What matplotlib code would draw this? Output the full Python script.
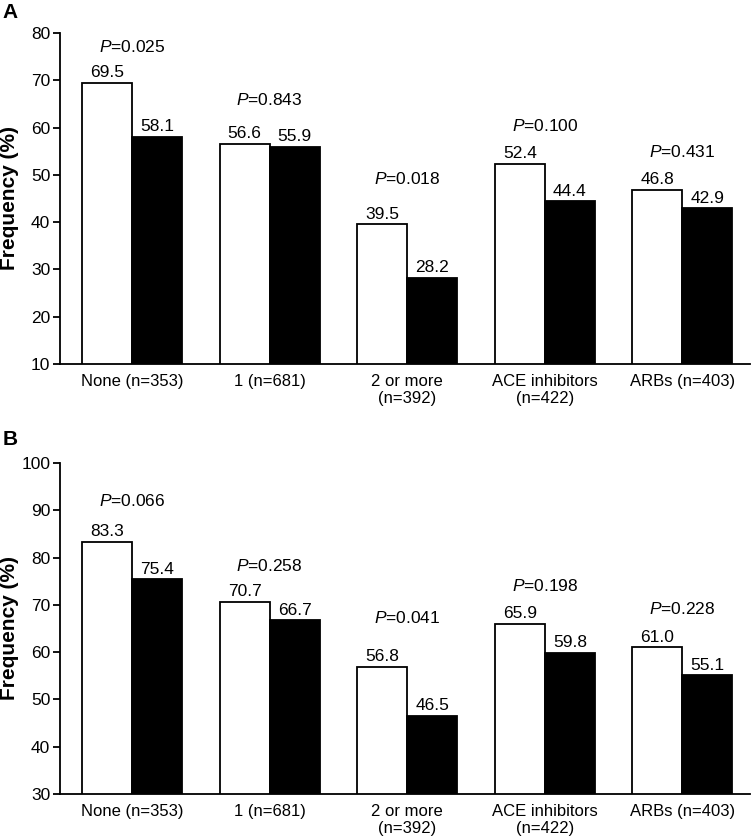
import matplotlib
matplotlib.use('Agg')
from matplotlib import pyplot as plt
import numpy as np

plt.rcParams['font.family'] = ['Liberation Sans', 'DejaVu Sans']
plt.rcParams['mathtext.fontset'] = 'custom'
plt.rcParams['mathtext.rm'] = 'Liberation Sans'
plt.rcParams['mathtext.it'] = 'Liberation Sans:italic'

categories = ['None (n=353)', '1 (n=681)', '2 or more\n(n=392)',
              'ACE inhibitors\n(n=422)', 'ARBs (n=403)']

a_white = [69.5, 56.6, 39.5, 52.4, 46.8]
a_black = [58.1, 55.9, 28.2, 44.4, 42.9]
a_pvals = ['0.025', '0.843', '0.018', '0.100', '0.431']

b_white = [83.3, 70.7, 56.8, 65.9, 61.0]
b_black = [75.4, 66.7, 46.5, 59.8, 55.1]
b_pvals = ['0.066', '0.258', '0.041', '0.198', '0.228']

# heights of the P labels
a_p_y = [77.1, 65.9, 49.1, 60.3, 54.8]
b_p_y = [92.0, 78.2, 67.2, 74.0, 69.1]

fig = plt.figure(figsize=(7.52, 8.4), dpi=100)
ax_a = fig.add_axes([0.0798, 0.5667, 0.9172, 0.394])
ax_b = fig.add_axes([0.0798, 0.0548, 0.9172, 0.394])


def draw_panel(ax, white, black, pvals, p_y, ylo, yhi, letter, letter_y):
    x = np.arange(len(categories))
    w = 0.364
    ax.bar(x - w / 2, white, w, bottom=0, color='white', edgecolor='black', linewidth=1.3)
    ax.bar(x + w / 2, black, w, bottom=0, color='black', edgecolor='black', linewidth=1.3)
    for xi, v in zip(x, white):
        ax.annotate('%.1f' % v, (xi - w / 2, v), xytext=(0, 2), textcoords='offset points',
                    ha='center', va='bottom', fontsize=12.5)
    for xi, v in zip(x, black):
        ax.annotate('%.1f' % v, (xi + w / 2, v), xytext=(0, 2), textcoords='offset points',
                    ha='center', va='bottom', fontsize=12.5)
    for xi, p, py in zip(x, pvals, p_y):
        ax.text(xi, py, r'$\it{P}$=' + p, ha='center', va='center', fontsize=12.5)
    ax.set_ylim(ylo, yhi)
    ax.set_xlim(-0.524, 4.49)
    ax.set_yticks(range(ylo, yhi + 1, 10))
    ax.set_xticks(x)
    ax.set_xticklabels(categories, fontsize=12, linespacing=1.2)
    ax.tick_params(axis='x', length=0, pad=7)
    ax.tick_params(axis='y', direction='out', length=5, width=1.3, labelsize=12.5, pad=2)
    for s in ['top', 'right']:
        ax.spines[s].set_visible(False)
    for s in ['left', 'bottom']:
        ax.spines[s].set_linewidth(1.3)
    ax.set_ylabel('Frequency (%)', fontsize=15, fontweight='bold')
    ax.yaxis.set_label_coords(-0.06, 0.5)
    fig.text(0.003, letter_y, letter, fontsize=15, fontweight='bold', va='top', ha='left')


draw_panel(ax_a, a_white, a_black, a_pvals, a_p_y, 10, 80, 'A', 0.996)
draw_panel(ax_b, b_white, b_black, b_pvals, b_p_y, 30, 100, 'B', 0.488)

plt.savefig('out.png', dpi=100)
